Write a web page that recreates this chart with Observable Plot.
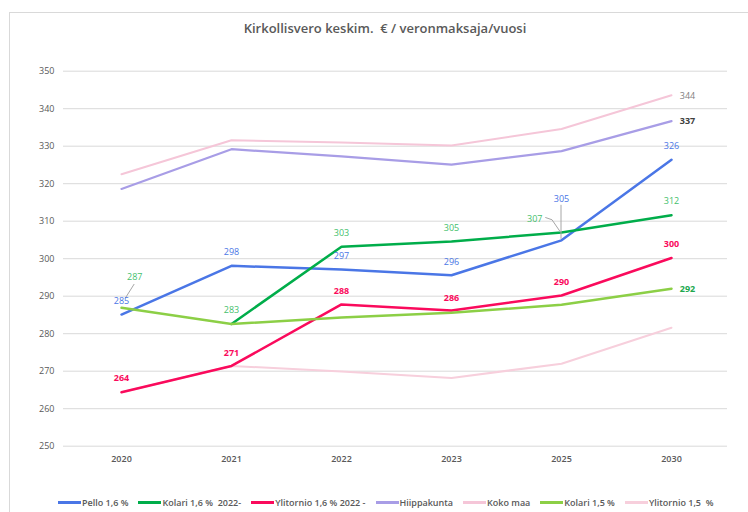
<!DOCTYPE html>
<html><head><meta charset="utf-8">
<script src="https://cdn.jsdelivr.net/npm/d3@7"></script>
<script src="https://cdn.jsdelivr.net/npm/@observablehq/plot@0.6"></script>
<style>
body{margin:0;background:#fff;font-family:"Open Sans",sans-serif;}
#wrap{position:relative;width:748px;height:512px;overflow:hidden;background:#fff;}
#border{position:absolute;left:9px;top:12px;width:760px;height:520px;border:1px solid #d9d9d9;}
#chart{position:absolute;left:0;top:0;}
#title{position:absolute;left:85px;width:600px;top:19px;text-align:center;font-size:13px;font-weight:600;color:#595959;white-space:pre;}
#legend{position:absolute;left:58px;top:496px;display:flex;gap:10px;font-size:9px;font-weight:600;color:#595959;white-space:pre;}
.item{display:flex;align-items:center;}
.sw{width:23px;height:2.5px;margin-right:1px;}
</style></head><body>
<div id="wrap"><div id="border"></div><div id="chart"></div><div id="title">Kirkollisvero keskim.  € / veronmaksaja/vuosi</div><div id="legend"></div></div>
<script>
const years = ["2020", "2021", "2022", "2023", "2025", "2030"];
const seriesNames = ["Pello 1,6 %", "Kolari 1,6 %  2022-", "Ylitornio 1,6 % 2022 -", "Hiippakunta", "Koko maa", "Kolari 1,5 %", "Ylitornio 1,5  %"];
const pello       = [285.1, 298.1, 297.1, 295.6, 304.9, 326.4];
const kolari16    = [null,  282.6, 303.2, 304.6, 307.0, 311.6];
const ylitornio16 = [264.4, 271.4, 287.8, 286.2, 290.2, 300.2];
const hiippakunta = [318.6, 329.2, 327.3, 325.1, 328.7, 336.7];
const kokoMaa     = [322.5, 331.6, 331.0, 330.2, 334.6, 343.6];
const kolari15    = [286.9, 282.6, 284.3, 285.6, 287.7, 292.0];
const ylitornio15 = [264.4, 271.4, 269.9, 268.2, 272.0, 281.6];
const yTicks = [250, 260, 270, 280, 290, 300, 310, 320, 330, 340, 350];

const seriesValues = [pello, kolari16, ylitornio16, hiippakunta, kokoMaa, kolari15, ylitornio15];
const colors = ["#4a76e6", "#00ad4a", "#fa0a5c", "#a89de6", "#f5c6d8", "#8ccf46", "#f7cfdc"];
const widths = [2.5, 2.5, 2.5, 2.25, 2, 2.5, 2];
const drawOrder = [6, 4, 3, 0, 1, 2, 5];

const rows = [];
seriesNames.forEach((s, si) => seriesValues[si].forEach((v, i) => rows.push({series: s, year: years[i], value: v})));
const fmt = d3.format(".0f");

// label styling per (series index, year index)
const labelSpec = [
  [0,0,0,-13.5,"#4a76e6",500],[0,1,0,-14,"#4a76e6",500],[0,2,0,-13,"#4a76e6",500],[0,3,0,-13.5,"#4a76e6",500],[0,4,0,-41,"#4a76e6",500],[0,5,0,-13.7,"#4a76e6",500],
  [1,2,0,-13.2,"#45bf6c",500],[1,3,0,-13.5,"#45bf6c",500],[1,4,-26.7,-13.2,"#45bf6c",500],[1,5,0,-14,"#45bf6c",500],
  [2,0,0,-14.3,"#fa0a5c",700],[2,1,0,-12.7,"#fa0a5c",700],[2,2,0,-13.2,"#fa0a5c",700],[2,3,0,-12.8,"#fa0a5c",700],[2,4,0,-13,"#fa0a5c",700],[2,5,0,-13.8,"#fa0a5c",700],
  [3,5,16,0.5,"#404040",700],
  [4,5,16,0.5,"#7f7f7f",500],
  [5,0,13.2,-31,"#45bf6c",500],[5,1,0,-14,"#45bf6c",500],[5,5,16,0.3,"#22a84e",700]
];

const labelMarks = labelSpec.map(([si, yi, dx, dy, fill, fw]) =>
  Plot.text(rows.filter(r => r.series === seriesNames[si] && r.year === years[yi]), {
    x: "year", y: "value", text: d => fmt(d.value), dx, dy, fill, fontWeight: fw, fontSize: 9
  }));

function leaders(index, scales) {
  const x = scales.x, y = scales.y;
  const g = d3.create("svg:g").attr("fill", "none").attr("stroke", "#a6a6a6").attr("stroke-width", 1);
  const px = x("2025"), py = y(pello[4]);
  g.append("path").attr("d", `M${px},${py - 1}V${py - 35}`);
  const kx = x("2025"), ky = y(kolari16[4]);
  g.append("path").attr("d", `M${kx - 1},${ky - 0.5}L${kx - 9},${ky - 12.2}L${kx - 15.7},${ky - 14.5}`);
  const lx = x("2020"), ly = y(kolari15[0]);
  g.append("path").attr("d", `M${lx + 4.2},${ly - 9}L${lx + 13.2},${ly - 23.3}`);
  return g.node();
}

const lineMarks = drawOrder.map(si => Plot.line(rows.filter(r => r.series === seriesNames[si]), {
  x: "year", y: "value", stroke: colors[si], strokeWidth: widths[si], curve: "linear"
}));

const chart = Plot.plot({
  width: 748, height: 512,
  marginLeft: 63, marginRight: 21, marginTop: 70, marginBottom: 66,
  style: {fontFamily: "'Open Sans', sans-serif", fontSize: "9px", color: "#595959", background: "transparent"},
  x: {type: "point", domain: years, range: [118.5, 672.5], padding: 0, axis: null},
  y: {domain: [250, 350], range: [445.7, 70.7], axis: null},
  marks: [
    Plot.ruleY(yTicks, {stroke: "#d9d9d9", strokeWidth: 1}),
    Plot.axisY(yTicks, {tickSize: 0, tickPadding: 9, label: null, fill: "#595959"}),
    Plot.axisX(years, {tickSize: 0, tickPadding: 9, label: null, fill: "#595959", fontWeight: 600}),
    ...lineMarks,
    leaders,
    ...labelMarks
  ]
});
document.getElementById("chart").appendChild(chart);

const legend = document.getElementById("legend");
seriesNames.forEach((s, i) => {
  const it = document.createElement("div"); it.className = "item";
  const sw = document.createElement("div"); sw.className = "sw"; sw.style.background = colors[i];
  const tx = document.createElement("span"); tx.textContent = s;
  it.appendChild(sw); it.appendChild(tx); legend.appendChild(it);
});
</script>
</body></html>
